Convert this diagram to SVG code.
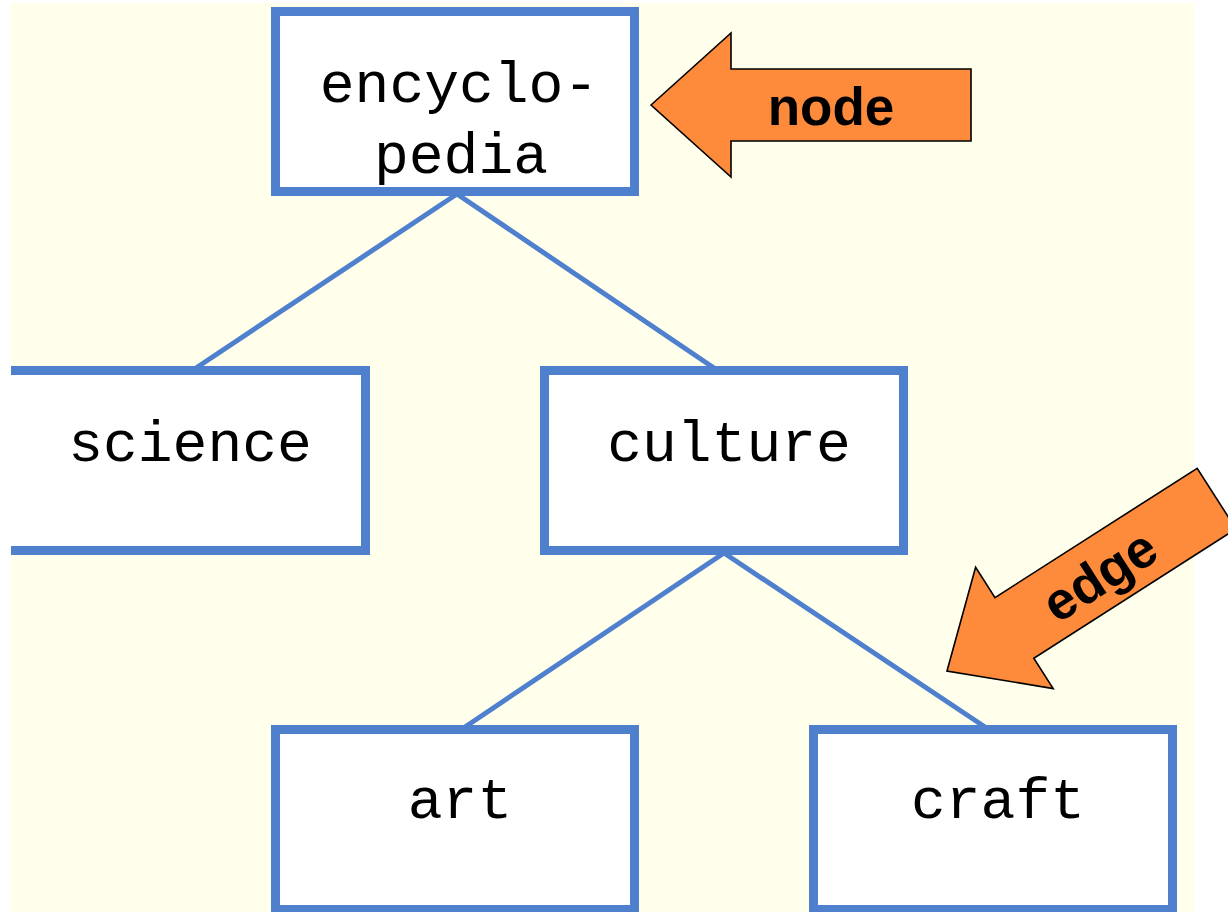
<svg xmlns="http://www.w3.org/2000/svg" xmlns:xlink="http://www.w3.org/1999/xlink" width="1228" height="912" viewBox="0 0 1228 912">
  <style>
    .box { fill: #FFFFFF; stroke: #4F80CE; stroke-width: 9; }
    .edge { stroke: #4F80CE; stroke-width: 5; stroke-linecap: butt; fill: none; }
    .lbl { font-family: "Liberation Mono", "DejaVu Sans Mono", monospace; font-size: 58px; fill: #000000; text-anchor: middle; }
    .call { fill: #FD8B3B; stroke: #000000; stroke-width: 1.6; stroke-linejoin: miter; }
    .calltxt { font-family: "Liberation Sans", Arial, sans-serif; font-weight: bold; font-size: 53px; fill: #000000; text-anchor: middle; }
  </style>
  <defs>
    <path id="arrow" d="M0,0 L80,-72 L80,-36 L320,-36 L320,36 L80,36 L80,72 Z"/>
  </defs>
  <rect x="0" y="0" width="1228" height="912" fill="#FFFFFF"/>
  <rect x="11" y="3" width="1183" height="909" fill="#FFFFEC"/>

  <g id="connectors">
    <line class="edge" x1="457" y1="194" x2="196" y2="368"/>
    <line class="edge" x1="457" y1="194" x2="714" y2="368"/>
    <line class="edge" x1="724" y1="553" x2="465" y2="727"/>
    <line class="edge" x1="724" y1="553" x2="985" y2="727"/>
  </g>

  <g id="node-encyclopedia">
    <rect class="box" x="275.5" y="11.5" width="359" height="180"/>
    <text class="lbl" x="459" y="102">encyclo-</text>
    <text class="lbl" x="461" y="173">pedia</text>
  </g>

  <g id="node-science">
    <rect x="11" y="370.5" width="354.5" height="180" fill="#FFFFFF"/>
    <path d="M11,370.5 H365.5 V550.5 H11" fill="none" stroke="#4F80CE" stroke-width="9"/>
    <text class="lbl" x="190" y="461">science</text>
  </g>

  <g id="node-culture">
    <rect class="box" x="544.5" y="370.5" width="359" height="180"/>
    <text class="lbl" x="729" y="461">culture</text>
  </g>

  <g id="node-art">
    <rect class="box" x="275.5" y="729.5" width="359" height="180"/>
    <text class="lbl" x="460" y="818">art</text>
  </g>

  <g id="node-craft">
    <rect class="box" x="813.5" y="729.5" width="359" height="180"/>
    <text class="lbl" x="998" y="818">craft</text>
  </g>

  <g id="callout-node" transform="translate(651,105)">
    <use xlink:href="#arrow" class="call"/>
    <text class="calltxt" x="180" y="20">node</text>
  </g>

  <g id="callout-edge" transform="translate(947,671) rotate(-32.6)">
    <use xlink:href="#arrow" class="call"/>
    <text class="calltxt" x="180" y="20">edge</text>
  </g>
</svg>
